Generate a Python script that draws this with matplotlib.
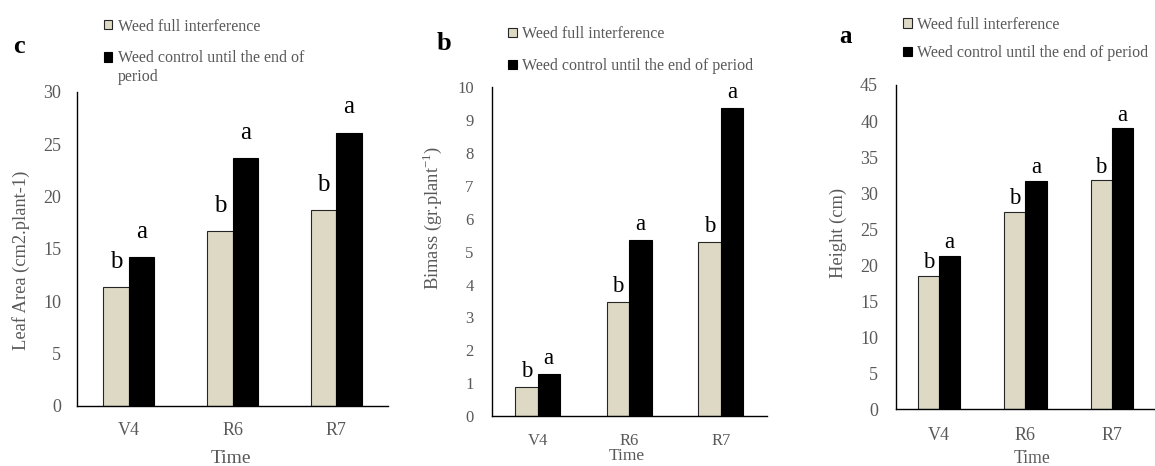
import matplotlib
matplotlib.use("Agg")
import matplotlib.pyplot as plt
import matplotlib.patches as mpatches
from matplotlib.legend_handler import HandlerPatch
import numpy as np

# growth stages on the x axis
stages = ["V4", "R6", "R7"]
series_names = ["Weed full interference", "Weed control until the end of period"]

# values
leaf_full = [11.3, 16.7, 18.7]
leaf_control = [14.2, 23.7, 26.1]
biomass_full = [0.89, 3.47, 5.29]
biomass_control = [1.28, 5.35, 9.37]
height_full = [18.5, 27.4, 31.8]
height_control = [21.3, 31.7, 39.0]

# mean separation letters
letters_full = ["b", "b", "b"]
letters_control = ["a", "a", "a"]

plt.rcParams['font.family'] = ['Liberation Serif', 'DejaVu Serif']
plt.rcParams['mathtext.fontset'] = 'custom'
plt.rcParams['mathtext.rm'] = 'Liberation Serif'

GRAY_TEXT = '#595959'
BEIGE = '#ddd9c4'
BAR_W = 0.245


def raised_square(legend, orig_handle, xdescent, ydescent, width, height, fontsize):
    # put the square next to the first line of a two line label
    return mpatches.Rectangle((-xdescent, -ydescent + fontsize * 0.68), width, height)


def draw_panel(fig, rect, full, control, ymax, ystep, ylabel, tick_size, ypad, xpad,
               ylab_xy, xlab_xy, xlab_size, note_size, note_gap):
    ax = fig.add_axes(rect)
    x = np.arange(len(stages))
    ax.bar(x - BAR_W / 2, full, BAR_W, color=BEIGE, edgecolor='#262626', linewidth=0.8)
    ax.bar(x + BAR_W / 2, control, BAR_W, color='black', edgecolor='black', linewidth=0.8)

    for i in range(len(stages)):
        ax.annotate(letters_full[i], (x[i] - BAR_W / 2, full[i]), xytext=(0, note_gap),
                    textcoords='offset points', ha='center', va='baseline', fontsize=note_size)
        ax.annotate(letters_control[i], (x[i] + BAR_W / 2, control[i]), xytext=(0, note_gap),
                    textcoords='offset points', ha='center', va='baseline', fontsize=note_size)

    ax.set_xlim(-0.5, len(stages) - 0.5)
    ax.set_ylim(0, ymax)
    ax.set_yticks(np.arange(0, ymax + ystep / 2, ystep))
    ax.set_xticks(x)
    ax.set_xticklabels(stages)
    ax.tick_params(axis='y', length=0, pad=ypad, labelsize=tick_size, labelcolor=GRAY_TEXT)
    ax.tick_params(axis='x', length=0, pad=xpad, labelsize=tick_size, labelcolor=GRAY_TEXT)
    for side in ['top', 'right']:
        ax.spines[side].set_visible(False)
    for side in ['left', 'bottom']:
        ax.spines[side].set_color('black')
        ax.spines[side].set_linewidth(1.0)

    ax.set_ylabel(ylabel, fontsize=13.3, color=GRAY_TEXT)
    ax.yaxis.set_label_coords(*ylab_xy)
    ax.set_xlabel("Time", fontsize=xlab_size, color=GRAY_TEXT)
    ax.xaxis.set_label_coords(*xlab_xy)
    return ax


def main():
    fig = plt.figure(figsize=(11.55, 4.66), dpi=100)

    ax_c = draw_panel(fig, [0.0667, 0.1294, 0.2693, 0.6738], leaf_full, leaf_control, 30, 5,
                      "Leaf Area (cm2.plant-1)", 13, 11.5, 12,
                      (-0.151, 0.464), (0.494, -0.142), 14, 18, 13.7)
    ax_b = draw_panel(fig, [0.4257, 0.1073, 0.2381, 0.7054], biomass_full, biomass_control, 10, 1,
                      r"Bimass (gr.plant$^{\mathregular{-1}}$)", 12, 13, 12,
                      (-0.173, 0.601), (0.491, -0.097), 12.5, 16.5, 7)
    ax_a = draw_panel(fig, [0.7755, 0.1217, 0.2245, 0.6959], height_full, height_control, 45, 5,
                      "Height (cm)", 13, 12.7, 13,
                      (-0.188, 0.544), (0.524, -0.125), 12.7, 16.5, 5.4)

    # legends
    h_full = mpatches.Patch(facecolor=BEIGE, edgecolor='#262626', linewidth=0.8)
    h_ctrl = mpatches.Patch(facecolor='black', edgecolor='black', linewidth=0.8)

    leg_c = ax_c.legend([h_full, h_ctrl], [series_names[0], "Weed control until the end of\nperiod"],
                        loc='upper left', bbox_to_anchor=(0.090, 0.9603),
                        bbox_transform=fig.transFigure, frameon=False, borderpad=0,
                        borderaxespad=0, fontsize=11.5, handlelength=0.52, handleheight=0.52,
                        handletextpad=0.35, labelspacing=1.0, labelcolor=GRAY_TEXT,
                        handler_map={h_ctrl: HandlerPatch(patch_func=raised_square)})
    leg_c.get_texts()[1].set_linespacing(1.2)

    ax_b.legend([h_full, h_ctrl], series_names, loc='upper left', bbox_to_anchor=(0.4401, 0.9436),
                bbox_transform=fig.transFigure, frameon=False, borderpad=0, borderaxespad=0,
                fontsize=11.5, handlelength=0.52, handleheight=0.52, handletextpad=0.35,
                labelspacing=1.0, labelcolor=GRAY_TEXT)
    ax_a.legend([h_full, h_ctrl], series_names, loc='upper left', bbox_to_anchor=(0.7821, 0.9642),
                bbox_transform=fig.transFigure, frameon=False, borderpad=0, borderaxespad=0,
                fontsize=11.5, handlelength=0.52, handleheight=0.52, handletextpad=0.35,
                labelspacing=0.79, labelcolor=GRAY_TEXT)

    # panel letters
    fig.text(12.7 / 1155, 1 - 53 / 466, "c", fontsize=19, fontweight='bold', va='baseline')
    fig.text(436.7 / 1155, 1 - 50 / 466, "b", fontsize=19, fontweight='bold', va='baseline')
    fig.text(839.3 / 1155, 1 - 43.3 / 466, "a", fontsize=18, fontweight='bold', va='baseline')

    fig.savefig("out.png", dpi=100)


main()
